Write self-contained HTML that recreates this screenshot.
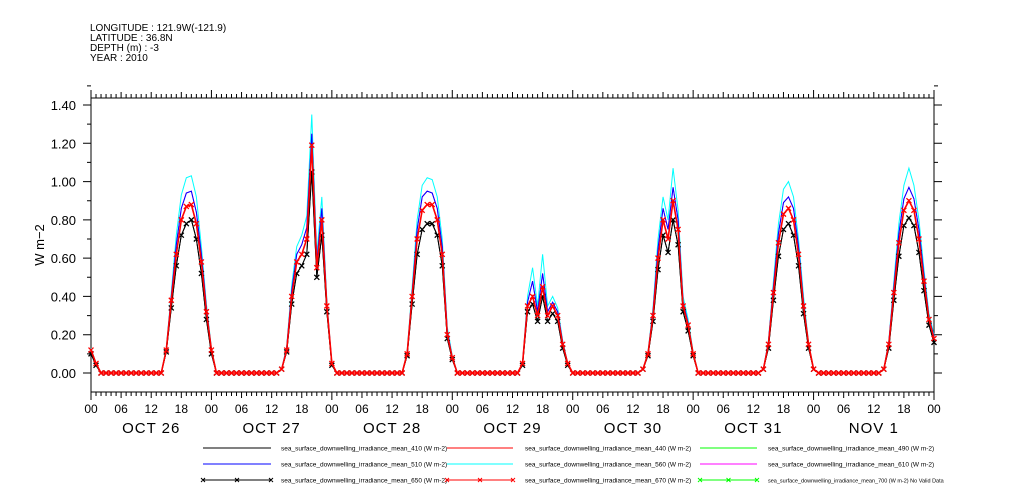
<!DOCTYPE html>
<html><head><meta charset="utf-8"><style>
body{margin:0;background:#fff}
svg{display:block;font-family:"Liberation Sans",sans-serif}
</style></head><body>
<svg id="chart" width="1009" height="504" viewBox="0 0 1009 504" xmlns="http://www.w3.org/2000/svg">
<g font-size="10" fill="#000">
<text x="90" y="31">LONGITUDE : 121.9W(-121.9)</text>
<text x="90" y="41">LATITUDE : 36.8N</text>
<text x="90" y="51">DEPTH (m) : -3</text>
<text x="90" y="61">YEAR : 2010</text>
</g>
<text transform="translate(44,245) rotate(-90)" text-anchor="middle" font-size="13">W m−2</text>
<g id="axes"></g>
<g id="series"></g>
<g id="legend" font-size="6.5"></g>
</svg>
<script>
const hourTicks=["00","06","12","18"];
const dayLabels=["OCT 26","OCT 27","OCT 28","OCT 29","OCT 30","OCT 31","NOV  1"];
const yTicks=[0,0.2,0.4,0.6,0.8,1.0,1.2,1.4];
const red=[0.12,0.05,0,0,0,0,0,0,0,0,0,0,0,0,0,0.12,0.38,0.62,0.80,0.87,0.88,0.78,0.58,0.32,
0.12,0,0,0,0,0,0,0,0,0,0,0,0,0,0.02,0.12,0.40,0.58,0.62,0.70,1.19,0.55,0.80,0.35,
0.05,0,0,0,0,0,0,0,0,0,0,0,0,0,0,0.10,0.40,0.70,0.85,0.88,0.88,0.80,0.62,0.20,
0.08,0,0,0,0,0,0,0,0,0,0,0,0,0,0.05,0.35,0.40,0.30,0.45,0.30,0.35,0.30,0.15,0.05,
0,0,0,0,0,0,0,0,0,0,0,0,0,0,0.02,0.10,0.30,0.60,0.80,0.70,0.90,0.75,0.35,0.25,
0.10,0,0,0,0,0,0,0,0,0,0,0,0,0,0.02,0.15,0.42,0.68,0.83,0.86,0.80,0.62,0.35,0.15,
0.02,0,0,0,0,0,0,0,0,0,0,0,0,0,0.02,0.15,0.42,0.68,0.85,0.90,0.85,0.70,0.48,0.28,0.18];
const cyan=[0.13,0.05,0,0,0,0,0,0,0,0,0,0,0,0,0,0.13,0.42,0.72,0.93,1.02,1.03,0.92,0.66,0.36,
0.13,0,0,0,0,0,0,0,0,0,0,0,0,0,0.02,0.14,0.46,0.66,0.72,0.82,1.35,0.62,0.92,0.38,
0.05,0,0,0,0,0,0,0,0,0,0,0,0,0,0,0.11,0.45,0.80,0.98,1.02,1.01,0.92,0.70,0.24,
0.09,0,0,0,0,0,0,0,0,0,0,0,0,0,0.05,0.40,0.55,0.35,0.62,0.35,0.40,0.34,0.17,0.05,
0,0,0,0,0,0,0,0,0,0,0,0,0,0,0.02,0.11,0.34,0.70,0.92,0.80,1.07,0.85,0.40,0.28,
0.11,0,0,0,0,0,0,0,0,0,0,0,0,0,0.02,0.17,0.48,0.78,0.96,1.00,0.92,0.70,0.40,0.16,
0.02,0,0,0,0,0,0,0,0,0,0,0,0,0,0.02,0.17,0.48,0.78,0.98,1.07,0.98,0.80,0.54,0.31,0.20];
const magenta=[0.12,0.05,0,0,0,0,0,0,0,0,0,0,0,0,0,0.12,0.40,0.67,0.86,0.94,0.95,0.84,0.62,0.34,
0.12,0,0,0,0,0,0,0,0,0,0,0,0,0,0.02,0.13,0.43,0.62,0.67,0.76,1.25,0.58,0.86,0.36,
0.05,0,0,0,0,0,0,0,0,0,0,0,0,0,0,0.10,0.42,0.75,0.92,0.95,0.94,0.86,0.66,0.22,
0.08,0,0,0,0,0,0,0,0,0,0,0,0,0,0.05,0.37,0.48,0.32,0.52,0.32,0.37,0.32,0.16,0.05,
0,0,0,0,0,0,0,0,0,0,0,0,0,0,0.02,0.10,0.32,0.65,0.86,0.75,0.97,0.80,0.37,0.26,
0.10,0,0,0,0,0,0,0,0,0,0,0,0,0,0.02,0.16,0.45,0.73,0.89,0.92,0.86,0.66,0.37,0.15,
0.02,0,0,0,0,0,0,0,0,0,0,0,0,0,0.02,0.16,0.45,0.73,0.91,0.97,0.91,0.75,0.51,0.29,0.19];
const black=[0.10,0.04,0,0,0,0,0,0,0,0,0,0,0,0,0,0.11,0.34,0.56,0.72,0.78,0.80,0.70,0.52,0.28,
0.10,0,0,0,0,0,0,0,0,0,0,0,0,0,0.02,0.11,0.36,0.52,0.56,0.62,1.05,0.50,0.72,0.32,
0.04,0,0,0,0,0,0,0,0,0,0,0,0,0,0,0.09,0.36,0.62,0.75,0.78,0.78,0.72,0.56,0.18,
0.07,0,0,0,0,0,0,0,0,0,0,0,0,0,0.04,0.32,0.36,0.27,0.40,0.27,0.31,0.27,0.13,0.04,
0,0,0,0,0,0,0,0,0,0,0,0,0,0,0.02,0.09,0.27,0.54,0.72,0.63,0.80,0.67,0.32,0.22,
0.09,0,0,0,0,0,0,0,0,0,0,0,0,0,0.02,0.13,0.38,0.61,0.75,0.78,0.72,0.56,0.31,0.13,
0.02,0,0,0,0,0,0,0,0,0,0,0,0,0,0.02,0.13,0.38,0.61,0.77,0.81,0.77,0.63,0.43,0.25,0.16];
const legendNames=["sea_surface_downwelling_irradiance_mean_410 (W m-2)","sea_surface_downwelling_irradiance_mean_440 (W m-2)","sea_surface_downwelling_irradiance_mean_490 (W m-2)","sea_surface_downwelling_irradiance_mean_510 (W m-2)","sea_surface_downwelling_irradiance_mean_560 (W m-2)","sea_surface_downwelling_irradiance_mean_610 (W m-2)","sea_surface_downwelling_irradiance_mean_650 (W m-2)","sea_surface_downwelling_irradiance_mean_670 (W m-2)","sea_surface_downwelling_irradiance_mean_700 (W m-2) No Valid Data"];
const legendColors=["#000","#f00","#0f0","#00f","#0ff","#f0f","#000","#f00","#0f0"];

const NS="http://www.w3.org/2000/svg";
const X0=91,X1=934,Y0=98,Y1=392,HOURS=168;
const xs=h=>X0+(X1-X0)*h/HOURS;
const ys=v=>373-v*(373-105)/1.4;
function mk(tag,attrs,parent){const e=document.createElementNS(NS,tag);for(const k in attrs)e.setAttribute(k,attrs[k]);parent.appendChild(e);return e;}
const axes=document.getElementById('axes');
const frame=mk('rect',{x:X0,y:Y0,width:X1-X0,height:Y1-Y0,fill:'none',stroke:'#000','stroke-width':1},axes);


let ticks="";
for(let h=0;h<=HOURS;h++){
  const x=xs(h); const big=h%24===0?8:(h%6===0?6:4);
  ticks+=`M${x},${Y1}v${big}M${x},${Y0}v-${big}`;
}
yTicks.forEach(v=>{ticks+=`M${X0},${ys(v)}h-8M${X1},${ys(v)}h8`;});
for(let v=0.1;v<1.5;v+=0.2){ticks+=`M${X0},${ys(v)}h-4M${X1},${ys(v)}h4`;}
const tp=mk('path',{d:ticks,stroke:'#000','stroke-width':1,fill:'none'},axes);


yTicks.forEach(v=>{
  const t=mk('text',{x:76,y:ys(v)+5,'text-anchor':'end','font-size':13},axes);
  t.textContent=v.toFixed(2);
  
  
});
for(let h=0;h<=HOURS;h+=6){
  const t=mk('text',{x:xs(h),y:413,'text-anchor':'middle','font-size':12},axes);
  t.textContent=hourTicks[(h/6)%4];
  
  
}
dayLabels.forEach((d,i)=>{
  const t=mk('text',{x:xs(i*24+12),y:433,'text-anchor':'middle','font-size':15,'letter-spacing':1,'xml:space':'preserve'},axes);
  t.textContent=d;
  
  
});
const sg=document.getElementById('series');
function draw(arr,color,name,marker,w){
  const g=mk('g',{},sg);
  
  
  mk('polyline',{points:arr.map((v,i)=>xs(i)+','+ys(v)).join(' '),fill:'none',stroke:color,'stroke-width':w||1},g);
  if(marker){let d="";arr.forEach((v,i)=>{const x=xs(i),y=ys(v);d+=`M${x-2.5},${y-2.5}l5,5M${x+2.5},${y-2.5}l-5,5`;});
    mk('path',{d:d,stroke:color,'stroke-width':1.3,fill:'none'},g);}
}
draw(cyan,'#0ff','series-560',false);
draw(magenta,'#f0f','series-610',false);
draw(black,'#000','series-410',false);
draw(magenta,'#00f','series-510',false);
draw(black,'#000','series-650',true);
draw(red,'#0f0','series-490',false);
draw(red,'#f00','series-670',true,1.6);
const lg=document.getElementById('legend');
const colX=[[203,271,281],[447,513,525],[700,757,768]];
legendNames.forEach((n,i)=>{
  const row=Math.floor(i/3),col=i%3,y=448+row*16;
  const g=mk('g',{},lg);
  
  
  mk('line',{x1:colX[col][0],x2:colX[col][1],y1:y,y2:y,stroke:legendColors[i],'stroke-width':1},g);
  if(row===2){let d="";[colX[col][0],(colX[col][0]+colX[col][1])/2,colX[col][1]].forEach(x=>{d+=`M${x-2},${y-2}l4,4M${x+2},${y-2}l-4,4`;});mk('path',{d:d,stroke:legendColors[i],fill:'none'},g);}
  const t=mk('text',{x:colX[col][2],y:y+2.5,'font-size':i===8?5.5:6.5},g);
  t.textContent=n;
});
</script>
</body></html>
